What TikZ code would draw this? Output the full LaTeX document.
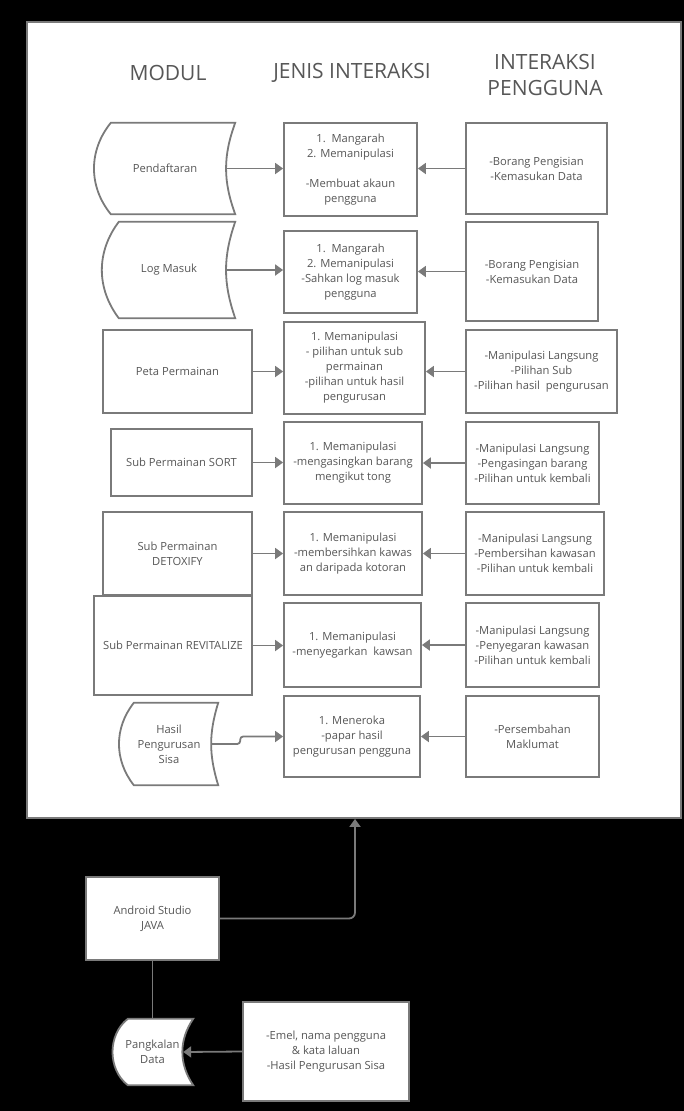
\documentclass[tikz,border=0pt]{standalone}
\usepackage{fontspec}
\setmainfont{Open Sans}
\usepackage{xcolor}
\usepackage{graphicx}
\usepackage{tikz}
\usetikzlibrary{arrows.meta,calc,backgrounds}
\definecolor{linegray}{HTML}{7A7A7A}
\definecolor{txtgray}{HTML}{575757}
\pgfdeclarelayer{bg}
\pgfdeclarelayer{mid}
\pgfsetlayers{bg,mid,main}
\tikzstyle{blk}=[rectangle, draw=linegray, fill=white, line width=1.8pt,% plain box
text=txtgray, align=center, inner sep=0pt, font=\fontsize{11.2}{15}\selectfont]
\tikzstyle{store}=[rectangle, text=txtgray, align=center, inner sep=0pt,% outline drawn later
font=\fontsize{11.2}{15}\selectfont]
\tikzstyle{hdr}=[text=txtgray, align=center, font=\fontsize{21}{26}\selectfont]
\tikzstyle{arr}=[-{Triangle[width=11pt,length=8pt]}, draw=linegray, line width=1.8pt]
\tikzstyle{wire}=[draw=linegray, line width=1.8pt]

\begin{document}
\begin{tikzpicture}[x=1pt, y=-1pt]
\useasboundingbox (0,0) rectangle (684,1111);
\begin{pgfonlayer}{bg}
\fill[black] (0,0) rectangle (684,1111);
\node[rectangle, draw=linegray, fill=white, line width=1.8pt, minimum width=654pt, minimum height=796pt] (panel) at (354,420) {};
\end{pgfonlayer}

% headers
\node[hdr] (hMod) at (168,73) {MODUL};
\node[hdr] (hJen) at (352,73) {JENIS INTERAKSI};
\node[hdr] (hInt) at (545,75) {INTERAKSI\\PENGGUNA};

% modul
\node[store, minimum width=140pt, minimum height=91pt] (pend) at (165,168.5) {Pendaftaran};
\node[store, minimum width=132pt, minimum height=96pt] (logm) at (169,270) {Log Masuk};
\node[blk, minimum width=149pt, minimum height=83pt] (peta) at (177.5,371.5) {Peta Permainan};
\node[blk, minimum width=141pt, minimum height=67pt] (sort) at (181.5,462.5) {Sub Permainan SORT};
\node[blk, minimum width=149pt, minimum height=83pt] (detox) at (177.5,553.5) {Sub Permainan\\DETOXIFY};
\node[blk, minimum width=158pt, minimum height=99pt] (revit) at (173,645.5) {Sub Permainan REVITALIZE};
\node[store, minimum width=98pt, minimum height=82pt] (hasil) at (169,744) {Hasil\\Pengurusan\\Sisa};

% jenis interaksi
\node[blk, minimum width=133pt, minimum height=93pt] (j1) at (350.5,169.5) {1.\ \ Mangarah\\2. Memanipulasi\\[15pt]-Membuat akaun\\pengguna};
\node[blk, minimum width=133pt, minimum height=82pt] (j2) at (350.5,272) {1.\ \ Mangarah\\2. Memanipulasi\\-Sahkan log masuk\\pengguna};
\node[blk, minimum width=141pt, minimum height=92pt] (j3) at (354.5,368) {1. Memanipulasi\\- pilihan untuk sub\\permainan\\-pilihan untuk hasil\\pengurusan};
\node[blk, minimum width=138pt, minimum height=82pt] (j4) at (353,463) {1. Memanipulasi\\-mengasingkan barang\\mengikut tong};
\node[blk, minimum width=138pt, minimum height=83pt] (j5) at (353,553.5) {1. Memanipulasi\\-membersihkan kawas\\an daripada kotoran};
\node[blk, minimum width=137pt, minimum height=84pt] (j6) at (352.5,645) {1. Memanipulasi\\-menyegarkan\ \ kawsan};
\node[blk, minimum width=136pt, minimum height=81pt] (j7) at (352,736.5) {1. Meneroka\\-papar hasil\\pengurusan pengguna};

% interaksi pengguna
\node[blk, minimum width=141pt, minimum height=91pt] (p1) at (536.5,168.5) {-Borang Pengisian\\-Kemasukan Data};
\node[blk, minimum width=132pt, minimum height=99pt] (p2) at (532,271.5) {-Borang Pengisian\\-Kemasukan Data};
\node[blk, minimum width=151pt, minimum height=83pt] (p3) at (541.5,371.5) {-Manipulasi Langsung\\-Pilihan Sub\\-Pilihan hasil\ \ pengurusan};
\node[blk, minimum width=133pt, minimum height=82pt] (p4) at (532.5,463) {-Manipulasi Langsung\\-Pengasingan barang\\-Pilihan untuk kembali};
\node[blk, minimum width=138pt, minimum height=83pt] (p5) at (535,553.5) {-Manipulasi Langsung\\-Pembersihan kawasan\\-Pilihan untuk kembali};
\node[blk, minimum width=133pt, minimum height=84pt] (p6) at (532.5,645) {-Manipulasi Langsung\\-Penyegaran kawasan\\-Pilihan untuk kembali};
\node[blk, minimum width=133pt, minimum height=81pt] (p7) at (532.5,736.5) {-Persembahan\\Maklumat};

% bawah
\node[blk, minimum width=133pt, minimum height=83pt] (andr) at (152.5,918.5) {Android Studio\\JAVA};
\node[store, minimum width=81pt, minimum height=66pt] (pangk) at (152.5,1052) {Pangkalan\\Data};
\node[blk, minimum width=166pt, minimum height=99pt] (emel) at (326,1051.5) {-Emel, nama pengguna\\\& kata laluan\\-Hasil Pengurusan Sisa};

\begin{pgfonlayer}{mid}
\foreach \n/\l/\r/\bl/\br in {pend/16/8/39/20, logm/16/8/37/19, hasil/14/6/38/17, pangk/16/10/52/34}
  \draw[wire, fill=white] ([xshift=\l pt]\n.north west) -- (\n.north east)
    to[bend right=\br] (\n.south east) -- ([xshift=\l pt]\n.south west)
    to[bend left=\bl] ([xshift=\l pt]\n.north west) -- cycle;
\end{pgfonlayer}

\draw[arr] ([xshift=-8pt]pend.east) -- (pend.east -| j1.west);
\draw[arr] ([xshift=-8pt]logm.east) -- (logm.east -| j2.west);
\draw[arr] (peta.east) -- (peta.east -| j3.west);
\draw[arr] (sort.east) -- (sort.east -| j4.west);
\draw[arr] (detox.east) -- (detox.east -| j5.west);
\draw[arr] (revit.east) -- (revit.east -| j6.west);
\draw[arr, rounded corners=3pt] ([xshift=-6pt]hasil.east) -- ++(28,0) |- (j7.west);

\draw[arr] (p1.west) -- (p1.west -| j1.east);
\draw[arr] (p2.west) -- (p2.west -| j2.east);
\draw[arr] (p3.west) -- (p3.west -| j3.east);
\draw[arr] (p4.west) -- (p4.west -| j4.east);
\draw[arr] (p5.west) -- (p5.west -| j5.east);
\draw[arr] (p6.west) -- (p6.west -| j6.east);
\draw[arr] (p7.west) -- (p7.west -| j7.east);

\draw[arr, rounded corners=6pt] (andr.east) -| ([xshift=3pt]j7.south |- panel.south);
\draw[wire] (andr.south) -- (pangk.north);
\draw[arr] (emel.west) -- ([xshift=-10pt]pangk.east);
\end{tikzpicture}
\end{document}
